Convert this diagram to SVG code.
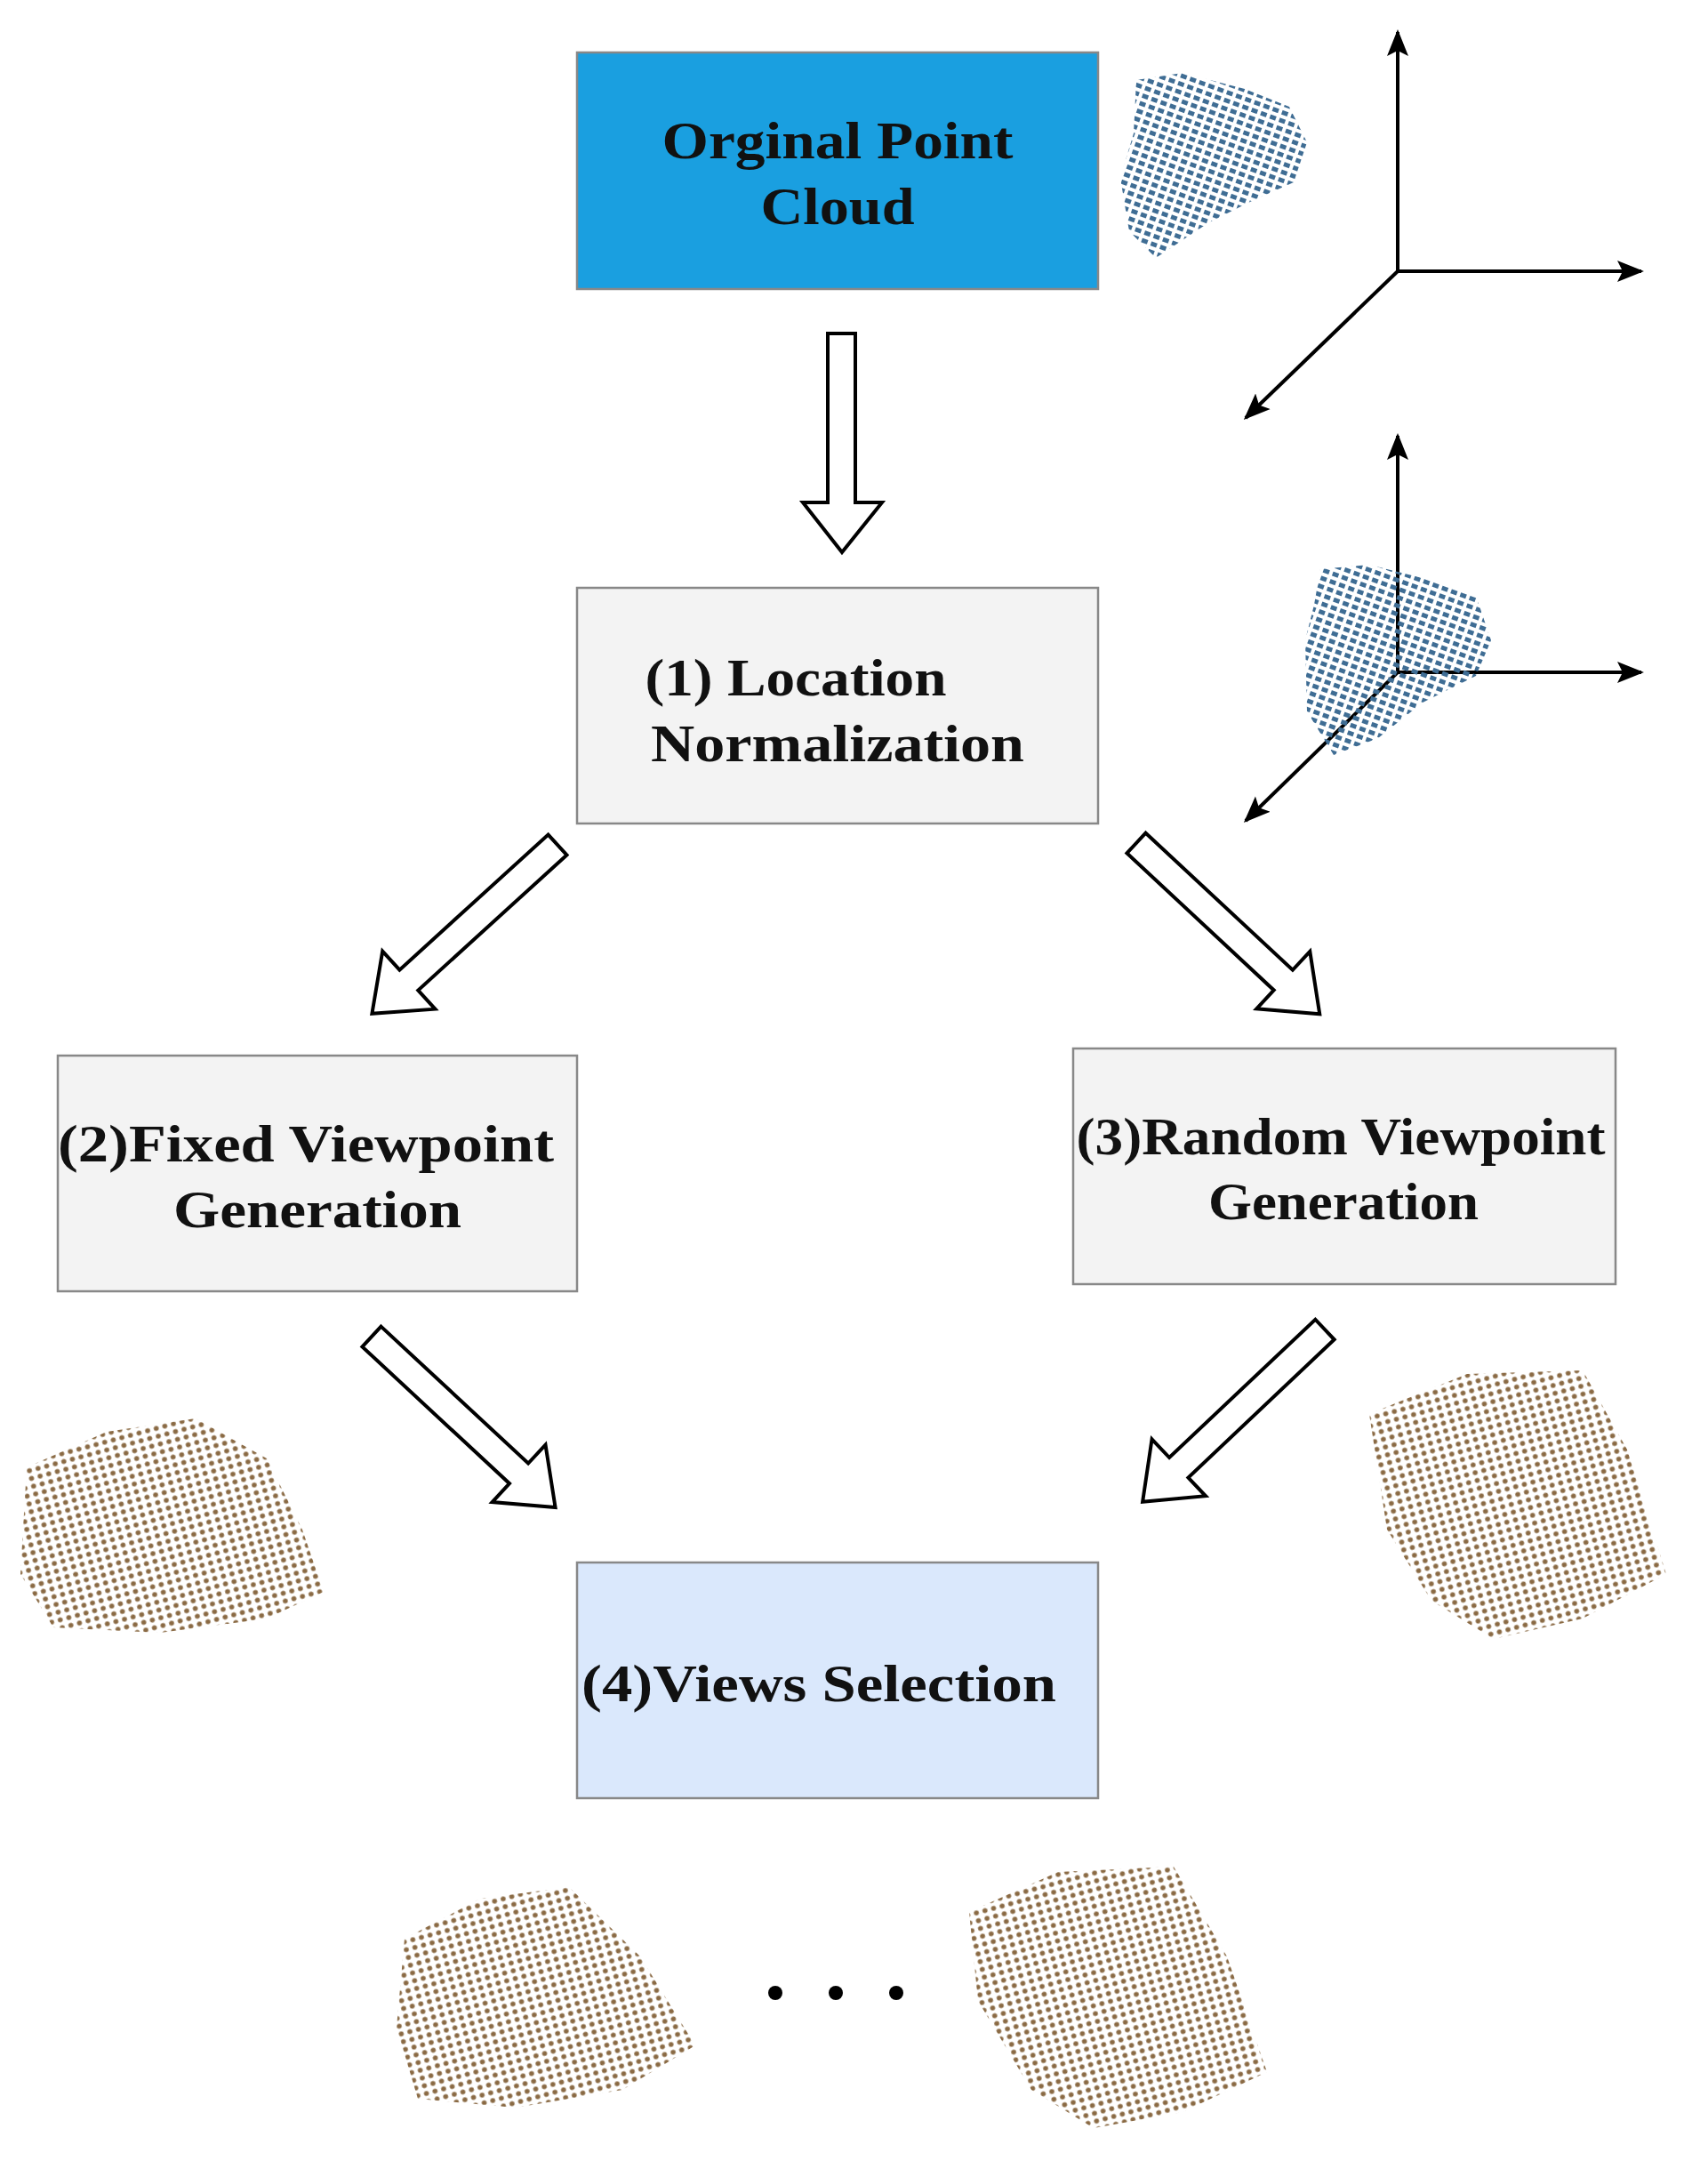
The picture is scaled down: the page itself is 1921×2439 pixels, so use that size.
<svg xmlns="http://www.w3.org/2000/svg" width="1921" height="2439" viewBox="0 0 1921 2439">
<style>
.t{font-family:"Liberation Serif",serif;font-weight:bold;font-size:60px;fill:#111;text-anchor:middle}
.box{stroke:#888;stroke-width:2.5}
.ba{fill:#fff;stroke:#000;stroke-width:4;stroke-linejoin:miter}
.ax{stroke:#000;stroke-width:4;fill:none}
</style>
<defs>
<marker id="ah" viewBox="0 0 10 10" refX="9" refY="5" markerWidth="30" markerHeight="30" orient="auto" markerUnits="userSpaceOnUse"><path d="M0,1 L10,5 L0,9 L2,5 Z" fill="#000"/></marker>
<polygon id="darr" points="0,-15.5 226,-15.5 226,-44 282,0 226,44 226,15.5 0,15.5"/>
<pattern id="pb" width="11" height="9" patternUnits="userSpaceOnUse" patternTransform="rotate(20)"><rect x="1" y="1" width="7" height="5" fill="#3f6d94"/></pattern>
<pattern id="pr" width="10" height="9" patternUnits="userSpaceOnUse" patternTransform="rotate(-15)"><circle cx="4" cy="4" r="2.8" fill="#8a6a44"/></pattern>
</defs>
<rect width="1921" height="2439" fill="#fff"/>
<g id="n0"><rect class="box" x="649" y="59" width="586" height="266" fill="#1a9fe0" stroke="#4a90d9"/><text class="t" x="942" y="178" textLength="395" lengthAdjust="spacingAndGlyphs">Orginal Point</text><text class="t" x="942" y="252" textLength="173" lengthAdjust="spacingAndGlyphs">Cloud</text></g>
<g id="n1"><rect class="box" x="649" y="661" width="586" height="265" fill="#f3f3f3"/><text class="t" x="895" y="782" textLength="339" lengthAdjust="spacingAndGlyphs">(1) Location</text><text class="t" x="942" y="856" textLength="420" lengthAdjust="spacingAndGlyphs">Normalization</text></g>
<g id="n2"><rect class="box" x="65" y="1187" width="584" height="265" fill="#f3f3f3"/><text class="t" x="344" y="1306" textLength="558" lengthAdjust="spacingAndGlyphs">(2)Fixed Viewpoint</text><text class="t" x="357" y="1380" textLength="324" lengthAdjust="spacingAndGlyphs">Generation</text></g>
<g id="n3"><rect class="box" x="1207" y="1179" width="610" height="265" fill="#f3f3f3"/><text class="t" x="1508" y="1298" textLength="595" lengthAdjust="spacingAndGlyphs">(3)Random Viewpoint</text><text class="t" x="1511" y="1371" textLength="304" lengthAdjust="spacingAndGlyphs">Generation</text></g>
<g id="n4"><rect class="box" x="649" y="1757" width="586" height="265" fill="#dae8fc" stroke="#7ea6d8"/><text class="t" x="921" y="1913" textLength="534" lengthAdjust="spacingAndGlyphs">(4)Views Selection</text></g>
<g id="connectors">
<polygon class="ba" points="931,375 962,375 962,565 992,565 947,621 903,565 931,565"/>
<use href="#darr" class="ba" transform="translate(627,950) rotate(137.7)"/>
<use href="#darr" class="ba" transform="translate(1278,948) rotate(43)"/>
<use href="#darr" class="ba" transform="translate(418,1503) rotate(42.9)"/>
<use href="#darr" class="ba" transform="translate(1490,1495) rotate(136.6)"/>
</g>
<g id="axes">
<line class="ax" x1="1572" y1="305" x2="1572" y2="36" marker-end="url(#ah)"/>
<line class="ax" x1="1572" y1="305" x2="1846" y2="305" marker-end="url(#ah)"/>
<line class="ax" x1="1572" y1="305" x2="1401" y2="470" marker-end="url(#ah)"/>
<line class="ax" x1="1572" y1="756" x2="1572" y2="490" marker-end="url(#ah)"/>
<line class="ax" x1="1572" y1="756" x2="1846" y2="756" marker-end="url(#ah)"/>
<line class="ax" x1="1572" y1="756" x2="1401" y2="923" marker-end="url(#ah)"/>
</g>
<g id="clouds">
<path d="M1278,90 L1330,82 L1400,100 L1450,120 L1470,160 L1455,205 L1410,225 L1360,250 L1300,290 L1270,260 L1260,200 L1275,150 Z" fill="url(#pb)"/>
<path d="M1485,640 L1540,635 L1600,650 L1660,670 L1677,720 L1660,760 L1600,790 L1550,830 L1500,849 L1470,800 L1468,720 L1478,680 Z" fill="url(#pb)"/>
<path d="M30,1650 L120,1610 L220,1595 L300,1640 L340,1720 L364,1790 L300,1820 L180,1836 L60,1830 L23,1770 Z" fill="url(#pr)"/>
<path d="M1540,1590 L1650,1545 L1780,1541 L1830,1630 L1874,1770 L1780,1820 L1680,1843 L1610,1800 L1560,1720 Z" fill="url(#pr)"/>
<path d="M455,2180 L540,2135 L640,2122 L720,2200 L782,2300 L700,2350 L580,2370 L470,2360 L446,2280 Z" fill="url(#pr)"/>
<path d="M1090,2150 L1190,2105 L1320,2099 L1380,2200 L1425,2330 L1330,2375 L1230,2393 L1160,2350 L1100,2250 Z" fill="url(#pr)"/>
</g>
<g id="dots"><circle cx="872" cy="2241" r="8"/><circle cx="940" cy="2241" r="8"/><circle cx="1008" cy="2241" r="8"/></g>
</svg>
